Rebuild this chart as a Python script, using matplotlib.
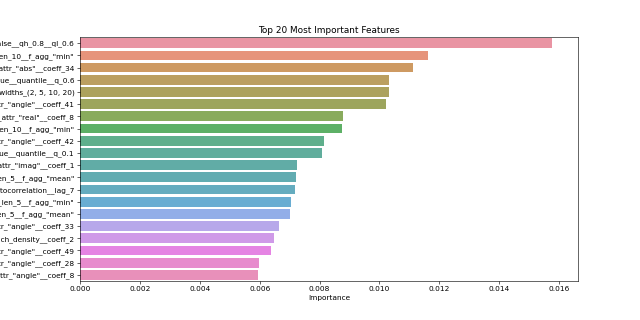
import matplotlib
matplotlib.use("Agg")
import matplotlib.pyplot as plt
import seaborn as sns
import pandas as pd

features = [
    'value__change_quantiles__f_agg_"var"__isabs_False__qh_0.8__ql_0.6',
    'value__agg_linear_trend__attr_"intercept"__chunk_len_10__f_agg_"min"',
    'value__fft_coefficient__attr_"abs"__coeff_34',
    'value__quantile__q_0.6',
    'value__cwt_coefficients__coeff_3__w_5__widths_(2, 5, 10, 20)',
    'value__fft_coefficient__attr_"angle"__coeff_41',
    'value__fft_coefficient__attr_"real"__coeff_8',
    'value__agg_linear_trend__attr_"slope"__chunk_len_10__f_agg_"min"',
    'value__fft_coefficient__attr_"angle"__coeff_42',
    'value__quantile__q_0.1',
    'value__fft_coefficient__attr_"imag"__coeff_1',
    'value__agg_linear_trend__attr_"stderr"__chunk_len_5__f_agg_"mean"',
    'value__autocorrelation__lag_7',
    'value__agg_linear_trend__attr_"intercept"__chunk_len_5__f_agg_"min"',
    'value__agg_linear_trend__attr_"rvalue"__chunk_len_5__f_agg_"mean"',
    'value__fft_coefficient__attr_"angle"__coeff_33',
    'value__spkt_welch_density__coeff_2',
    'value__fft_coefficient__attr_"angle"__coeff_49',
    'value__fft_coefficient__attr_"angle"__coeff_28',
    'value__fft_coefficient__attr_"angle"__coeff_8',
]
importance = [0.01577, 0.01162, 0.01112, 0.01032, 0.01032, 0.01022, 0.00879,
              0.00875, 0.00815, 0.00808, 0.00725, 0.00722, 0.00718, 0.00705,
              0.00701, 0.00665, 0.00648, 0.00638, 0.00598, 0.00595]

df = pd.DataFrame({"Feature": features, "Importance": importance})

fig = plt.figure(figsize=(12, 6), dpi=640 / 12)
ax = fig.add_axes([0.125, 0.122, 0.778, 0.762])
palette = sns.color_palette("husl", len(features))
sns.barplot(data=df, x="Importance", y="Feature", hue="Feature",
            palette=palette, saturation=0.75, legend=False, alpha=0.85, ax=ax)
ax.set_title("Top 20 Most Important Features", fontsize=12)
ax.set_xlabel("Importance")
ax.set_ylabel("")
ax.set_xlim(0, 0.01663)
ax.set_xticks([0, 0.002, 0.004, 0.006, 0.008, 0.010, 0.012, 0.014, 0.016])
ax.set_xticklabels(["0.000", "0.002", "0.004", "0.006", "0.008", "0.010",
                    "0.012", "0.014", "0.016"])
fig.savefig("out.png", dpi=640 / 12)
